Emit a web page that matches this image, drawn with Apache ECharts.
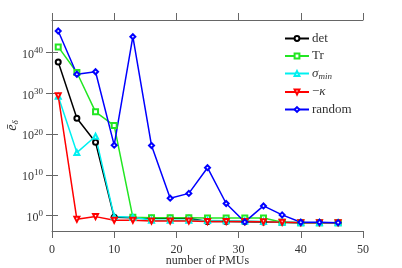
<!DOCTYPE html>
<html>
<head>
<meta charset="utf-8">
<script src="https://cdn.jsdelivr.net/npm/echarts@6/dist/echarts.min.js"></script>
<style>html,body{margin:0;padding:0;background:#fff}#c{width:402px;height:268px}</style>
</head>
<body>
<div id="c"></div>
<script>
var pmus = [1, 4, 7, 10, 13, 16, 19, 22, 25, 28, 31, 34, 37, 40, 43, 46];
var detVals = [5e37, 8e23, 1e18, 0.4, 0.32, 0.25, 0.25, 0.25, 0.04, 0.04, 0.035, 0.03, 0.025, 0.02, 0.02, 0.02];
var trVals = [2.5e41, 1.3e35, 3e25, 1.3e22, 0.4, 0.3, 0.3, 0.3, 0.28, 0.28, 0.28, 0.28, 0.025, 0.02, 0.02, 0.02];
var sigmaVals = [2e29, 3e15, 3e19, 0.6, 0.4, 0.08, 0.08, 0.08, 0.07, 0.06, 0.05, 0.04, 0.025, 0.02, 0.02, 0.02];
var kappaVals = [2.5e29, 0.13, 0.6, 0.08, 0.08, 0.05, 0.05, 0.05, 0.04, 0.04, 0.04, 0.032, 0.025, 0.02, 0.02, 0.02];
var randomVals = [2e45, 5e34, 2e35, 2e17, 8e43, 1.6e17, 2e4, 3e5, 6e11, 1e3, 0.03, 250, 1.6, 0.025, 0.025, 0.02];
var xTicks = [0, 10, 20, 30, 40, 50];
var yTickExps = [0, 10, 20, 30, 40];
var seriesNames = ['det', 'Tr', 'sigma', 'kappa', 'random'];

var FONT = 'Liberation Serif';
var yTicks = yTickExps.map(function (e) { return Math.pow(10, e); });
function pairs(vals) { return pmus.map(function (x, i) { return [x, vals[i]]; }); }

var chart = echarts.init(document.getElementById('c'), null, {renderer: 'canvas'});
var axisCol = '#666';
var textCol = '#333';
var yMin = Math.pow(10, -3.75), yMax = 1e48;

function mk(name, vals, color, symbol, rot) {
  return {
    name: name, type: 'line', data: pairs(vals),
    symbol: symbol, symbolSize: 5, symbolRotate: rot || 0,
    lineStyle: {color: color, width: 1.5},
    itemStyle: {color: color, borderColor: color, borderWidth: 1.2},
    emphasis: {disabled: true}, animation: false
  };
}

var legendLabels = {
  det: 'det', Tr: 'Tr', sigma: '{i|σ}{sub|min}', kappa: '−{i|κ}', random: 'random'
};

chart.setOption({
  backgroundColor: '#fff',
  animation: false,
  grid: {left: 52, right: 39, top: 20, bottom: 37, containLabel: false, outerBoundsMode: 'none'},
  legend: {
    data: seriesNames,
    orient: 'vertical', left: 279, top: 27,
    itemWidth: 24, itemHeight: 6, itemGap: 4.5,
    formatter: function (n) { return legendLabels[n]; },
    textStyle: {
      fontFamily: FONT, fontSize: 13, color: textCol, padding: [0, 0, 0, -2],
      rich: {
        i: {fontFamily: FONT, fontStyle: 'italic', fontSize: 13, color: textCol},
        sub: {fontFamily: FONT, fontStyle: 'italic', fontSize: 9, color: textCol, padding: [6, 0, 0, 0]}
      }
    }
  },
  xAxis: [{
    type: 'value', min: 0, max: 50, interval: 10, position: 'bottom',
    name: 'number of PMUs', nameLocation: 'middle', nameGap: 24, nameMoveOverlap: false,
    nameTextStyle: {fontFamily: FONT, fontSize: 12, color: textCol},
    axisLine: {show: true, lineStyle: {color: axisCol, width: 1}},
    axisTick: {show: true, length: 7, lineStyle: {color: axisCol}},
    axisLabel: {fontFamily: FONT, fontSize: 12, color: textCol, margin: 13},
    splitLine: {show: false}
  }, {
    type: 'value', min: 0, max: 50, interval: 10, position: 'top',
    axisLine: {show: true, lineStyle: {color: axisCol, width: 1}},
    axisTick: {show: true, length: 7, lineStyle: {color: axisCol}},
    axisLabel: {show: false}, splitLine: {show: false}
  }],
  yAxis: [{
    type: 'log', logBase: 10, min: yMin, max: yMax, position: 'left',
    name: '{e|ē}{d|δ}', nameLocation: 'middle', nameGap: 32, nameRotate: 90, nameMoveOverlap: false,
    nameTextStyle: {
      color: textCol,
      rich: {
        e: {fontFamily: FONT, fontStyle: 'italic', fontSize: 14, color: textCol},
        d: {fontFamily: FONT, fontStyle: 'italic', fontSize: 9, color: textCol, padding: [7, 0, 0, 0]}
      }
    },
    axisLine: {show: true, lineStyle: {color: axisCol, width: 1}},
    axisTick: {show: true, length: 6, lineStyle: {color: axisCol}, customValues: yTicks},
    axisLabel: {
      customValues: yTicks, margin: 9,
      formatter: function (v) { return '{b|10}{s|' + Math.round(Math.log10(v)) + '}'; },
      rich: {
        b: {fontFamily: FONT, fontSize: 12, color: textCol, padding: [4, 0, 0, 0]},
        s: {fontFamily: FONT, fontSize: 9, color: textCol, padding: [0, 0, 4, 0]}
      }
    },
    splitLine: {show: false}
  }, {
    type: 'log', logBase: 10, min: yMin, max: yMax, position: 'right',
    axisLine: {show: true, lineStyle: {color: axisCol, width: 1}},
    axisTick: {show: true, length: 6, lineStyle: {color: axisCol}, customValues: yTicks},
    axisLabel: {show: false, customValues: yTicks},
    splitLine: {show: false}
  }],
  series: [
    mk('det', detVals, '#000000', 'emptyCircle'),
    mk('Tr', trVals, '#22e622', 'emptyRect'),
    mk('sigma', sigmaVals, '#00f0f0', 'emptyTriangle'),
    mk('kappa', kappaVals, '#ff0000', 'emptyTriangle', 180),
    mk('random', randomVals, '#0000ff', 'emptyDiamond')
  ]
});
</script>
</body>
</html>
